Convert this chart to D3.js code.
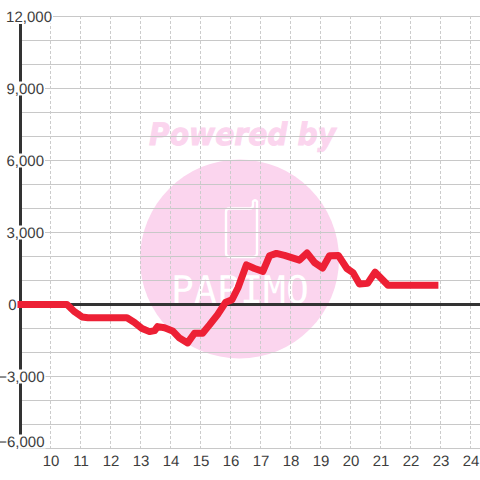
<!DOCTYPE html>
<html><head><meta charset="utf-8">
<script src="https://cdn.jsdelivr.net/npm/d3@7"></script>
<style>html,body{margin:0;padding:0;background:#fff}svg{display:block}text{font-family:"Liberation Sans",Arial,sans-serif;text-rendering:geometricPrecision}</style>
</head><body><svg id="c" width="480" height="480"></svg>
<script>
const xTicks=[10,11,12,13,14,15,16,17,18,19,20,21,22,23,24];
const yTicks=[12000,9000,6000,3000,0,-3000,-6000];
const yGrid=[12000,11000,10000,9000,8000,7000,6000,5000,4000,3000,2000,1000,0,-1000,-2000,-3000,-4000,-5000,-6000];
const hours=[8.9,10.55,10.8,11.05,11.25,12.55,12.8,13.05,13.3,13.47,13.57,13.8,14.07,14.3,14.57,14.8,15.07,15.3,15.57,15.83,16.05,16.25,16.53,16.8,17.08,17.3,17.53,17.8,18.3,18.55,18.8,19.07,19.3,19.6,19.88,20.08,20.3,20.57,20.82,21.25,22.93];
const values=[0,0,-300,-520,-550,-550,-750,-1000,-1130,-1090,-920,-970,-1100,-1400,-1600,-1200,-1200,-850,-420,80,200,700,1650,1500,1380,2030,2130,2050,1850,2150,1750,1520,2030,2040,1500,1330,850,880,1350,800,800];

const svg=d3.select("#c");
const x=d3.scaleLinear().domain([10,24]).range([50.5,470.5]);
const y=d3.scaleLinear().domain([12000,-6000]).range([16.5,448.5]);

// watermark
const wm=svg.append("g");
wm.append("circle").attr("cx",239.5).attr("cy",259).attr("r",99.5).attr("fill","#fbd5ee");
wm.append("text").attr("x",149).attr("y",145)
  .attr("font-size",31).attr("font-weight","bold").attr("font-style","italic")
  .attr("textLength",187).attr("lengthAdjust","spacingAndGlyphs")
  .attr("fill","#fbd5ee").attr("stroke","#fbd5ee").attr("stroke-width",.9)
  .attr("style","font-family:'DejaVu Sans'").text("Powered by");
wm.append("path").attr("d","M229 208.5H250Q253 208.5 253 205V201.5Q255 199 257 201.5V253Q257 257 253 257H230Q226 257 226 253V212Q226 208.5 229 208.5Z")
  .attr("fill","none").attr("stroke","#fff").attr("stroke-width",2.4);
wm.append("text").attr("x",171).attr("y",303)
  .attr("font-size",38).attr("textLength",138).attr("lengthAdjust","spacing")
  .attr("fill","#fff").attr("style","font-family:'DejaVu Sans Mono'").text("PAPIMO");

// grid
svg.append("g").selectAll("line").data(yGrid).join("line")
  .attr("x1",20).attr("x2",480).attr("y1",d=>y(d)).attr("y2",d=>y(d))
  .attr("stroke","#c8c8c8").attr("stroke-width",1);
svg.append("g").selectAll("line").data(xTicks).join("line")
  .attr("x1",d=>x(d)).attr("x2",d=>x(d)).attr("y1",16).attr("y2",448)
  .attr("stroke","#cccccc").attr("stroke-width",1).attr("stroke-dasharray","3,2");

// axes
svg.append("line").attr("x1",20.5).attr("x2",20.5).attr("y1",24).attr("y2",436).attr("stroke","#333").attr("stroke-width",3);
svg.append("line").attr("x1",20).attr("x2",480).attr("y1",304.5).attr("y2",304.5).attr("stroke","#333").attr("stroke-width",3);

// series
const line=d3.line().x((d,i)=>x(hours[i])).y(d=>y(d));
svg.append("path").datum(values).attr("d",line).attr("fill","none")
  .attr("stroke","#ed2035").attr("stroke-width",7).attr("stroke-linejoin","round");

// y labels with white backing
const rightEdge=d=>d===12000?52:(d===0?16.5:(d<0?44.5:44));
const leftEdge=d=>d===0?7:(d<0?1:5);
const labelY=d=>d===-6000?y(d)-7:y(d);
const labels=svg.append("g").attr("opacity",.999);
const yl=labels.selectAll("g").data(yTicks).join("g");
yl.filter(d=>d!==0).append("rect").attr("x",leftEdge).attr("y",d=>labelY(d)-7)
  .attr("width",d=>rightEdge(d)-leftEdge(d)+1).attr("height",14).attr("fill","#fff");
yl.append("text").attr("x",rightEdge).attr("y",d=>labelY(d)+5).attr("text-anchor","end")
  .attr("font-size",15).attr("fill","#3d3d3d").text(d=>d3.format(",")(d));

// x labels
labels.append("g").selectAll("text").data(xTicks).join("text")
  .attr("x",d=>x(d)+.5).attr("y",466).attr("text-anchor","middle")
  .attr("font-size",15).attr("fill","#3d3d3d").text(d=>d);
</script></body></html>
